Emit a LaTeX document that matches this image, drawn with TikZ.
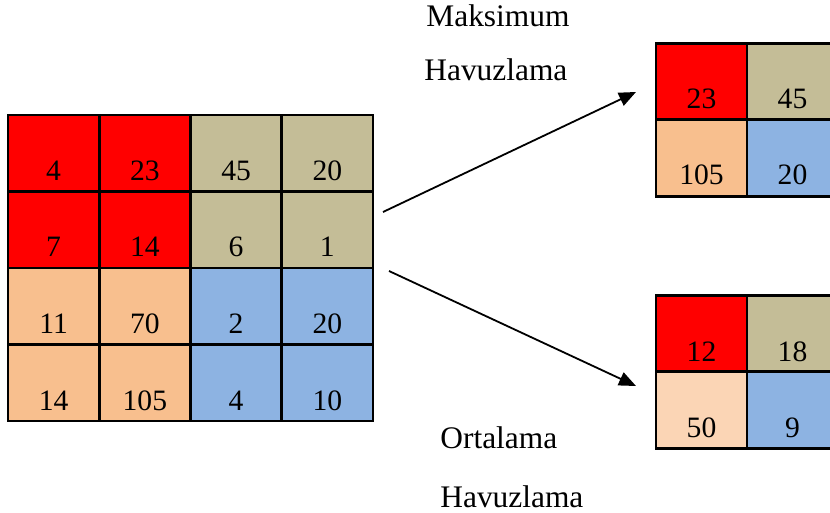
\documentclass[tikz,border=0pt]{standalone}
\usepackage{fontspec}
\setmainfont{Liberation Serif}
\usetikzlibrary{arrows.meta}
\definecolor{poolred}{HTML}{FF0000}
\definecolor{pooltan}{HTML}{C4BD97}
\definecolor{poolpeach}{HTML}{F8BF8E}
\definecolor{poollightpeach}{HTML}{FBD5B5}
\definecolor{poolblue}{HTML}{8DB3E2}
\begin{document}
\begin{tikzpicture}[x=0.5pt,y=-0.5pt,
  cell/.style={draw=black,line width=1.4pt,minimum width=45.6pt,minimum height=38.25pt,inner sep=0pt,outer sep=0pt},
  num/.style={anchor=base,inner sep=0pt,font=\fontsize{14.8}{17}\selectfont},
  caption/.style={anchor=base west,inner sep=0pt,font=\fontsize{15.7}{18}\selectfont},
  poolarrow/.style={line width=0.9pt,-{Triangle[length=8.5pt,width=7pt]}}]
\clip (0,0) rectangle (830,513);
\fill[white] (0,0) rectangle (830,513);

% 4x4 input feature map
\foreach \v [count=\i from 0] in {4,23,45,20,7,14,6,1,11,70,2,20,14,105,4,10}{
  \pgfmathtruncatemacro{\row}{int(\i/4)}
  \pgfmathtruncatemacro{\col}{mod(\i,4)}
  \pgfmathsetmacro{\cx}{53.6+91.25*\col}
  \pgfmathsetmacro{\cy}{153.25+76.5*\row}
  \ifnum\row<2 \ifnum\col<2 \def\cc{poolred}\else\def\cc{pooltan}\fi
  \else \ifnum\col<2 \def\cc{poolpeach}\else\def\cc{poolblue}\fi\fi
  \node[cell,fill=\cc] (in\row\col) at (\cx,\cy) {};
  \node[num] at ([yshift=5.5pt]in\row\col.south) {\v};
}

% max pooling output
\node[cell,fill=poolred]  (mx00) at (701.5,82) {};
\node[cell,fill=pooltan]  (mx01) at (792.5,82) {};
\node[cell,fill=poolpeach](mx10) at (701.5,158) {};
\node[cell,fill=poolblue] (mx11) at (792.5,158) {};
\node[num] at ([yshift=6pt]mx00.south) {23};
\node[num] at ([yshift=6pt]mx01.south) {45};
\node[num] at ([yshift=6pt]mx10.south) {105};
\node[num] at ([yshift=6pt]mx11.south) {20};

% average pooling output
\node[cell,fill=poolred]       (av00) at (701.5,334) {};
\node[cell,fill=pooltan]       (av01) at (792.5,334) {};
\node[cell,fill=poollightpeach](av10) at (701.5,410) {};
\node[cell,fill=poolblue]      (av11) at (792.5,410) {};
\node[num] at ([yshift=5.5pt]av00.south) {12};
\node[num] at ([yshift=5.5pt]av01.south) {18};
\node[num] at ([yshift=5.5pt]av10.south) {50};
\node[num] at ([yshift=5.5pt]av11.south) {9};

% captions
\node[caption] (maxa) at (426,27) {Maksimum};
\node[caption] (maxb) at (424,81) {Havuzlama};
\node[caption] (avga) at (440,448) {Ortalama};
\node[caption] (avgb) at (440,507) {Havuzlama};

% pooling arrows
\coordinate (maxstart) at (383,212);
\coordinate (maxend) at (636,92);
\coordinate (avgstart) at (389,271);
\coordinate (avgend) at (636,386);
\draw[poolarrow] (maxstart) -- (maxend);
\draw[poolarrow] (avgstart) -- (avgend);
\end{tikzpicture}
\end{document}
